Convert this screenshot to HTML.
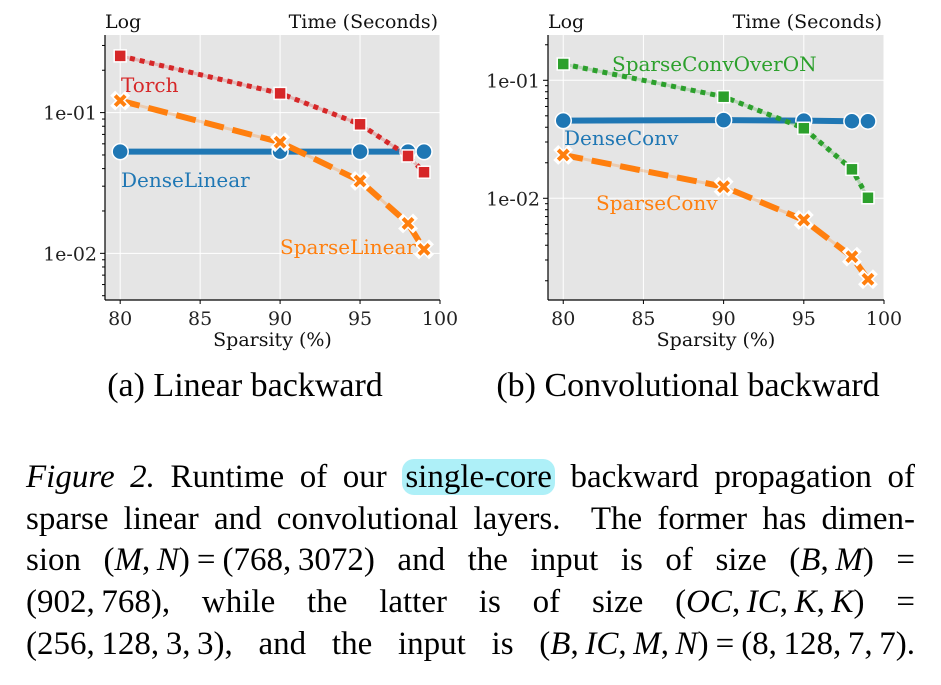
<!DOCTYPE html>
<html><head><meta charset="utf-8">
<style>
body{margin:0;background:#fff;width:941px;height:685px;overflow:hidden;position:relative;font-family:"Liberation Serif",serif}
svg{position:absolute;left:0;top:0}
.cap{position:absolute;left:26px;width:889px;font-size:33px;line-height:42px;white-space:nowrap;text-align:justify;text-align-last:justify;color:#000}
.hl{background:#aef0f8;border-radius:12px;padding:0 3px}
i{font-style:italic}
.m{margin:0 7px}
</style></head>
<body>
<svg id="chart" width="941" height="420"></svg>
<div class="cap" style="top:456px"><i>Figure 2.</i> Runtime of our <span class="hl">single-core</span> backward propagation of</div>
<div class="cap" style="top:498px">sparse linear and convolutional layers. &nbsp;The former has dimen-</div>
<div class="cap" style="top:539px">sion (<i>M</i>,&thinsp;<i>N</i>)<span class="m">=</span>(768,&thinsp;3072) and the input is of size (<i>B</i>,&thinsp;<i>M</i>) <span>=</span></div>
<div class="cap" style="top:581px">(902,&thinsp;768), while the latter is of size (<i>OC</i>,&thinsp;<i>IC</i>,&thinsp;<i>K</i>,&thinsp;<i>K</i>) <span>=</span></div>
<div class="cap" style="top:623px">(256,&thinsp;128,&thinsp;3,&thinsp;3), and the input is (<i>B</i>,&thinsp;<i>IC</i>,&thinsp;<i>M</i>,&thinsp;<i>N</i>)<span class="m">=</span>(8,&thinsp;128,&thinsp;7,&thinsp;7).</div>
<script>
const sparsity=[80,90,95,98,99];
const torchLin=[0.253,0.137,0.0826,0.0492,0.0377];
const denseLin=[0.0528,0.0528,0.0528,0.0528,0.0528];
const sparseLin=[0.1217,0.0616,0.0327,0.0163,0.01067];
const sparseConvOverON=[0.1374,0.0726,0.0392,0.0176,0.0101];
const denseConv=[0.0455,0.046,0.0455,0.045,0.045];
const sparseConv=[0.0233,0.01254,0.00655,0.0032,0.00206];
const xTicks=[80,85,90,95,100];
const yTicks=[0.1,0.01];
const yTickLabels=["1e-01","1e-02"];

const svg=document.getElementById('chart');
const NS='http://www.w3.org/2000/svg';
function mk(tag,attrs,parent){const e=document.createElementNS(NS,tag);for(const k in attrs)e.setAttribute(k,attrs[k]);(parent||svg).appendChild(e);return e;}
const RED='#d62728',BLUE='#1f77b4',ORANGE='#ff7f0e',GREEN='#2ca02c';
const FS=19;

function panel(p){
  const g=mk('g',{});
  
  
  const xs=v=>p.x0+(v-79.05)/(100-79.05)*(p.x1-p.x0);
  const ys=v=>p.y0+(Math.log10(p.yMax)-Math.log10(v))/(Math.log10(p.yMax)-Math.log10(p.yMin))*(p.y1-p.y0);
  const bg=mk('rect',{x:p.x0,y:p.y0,width:p.x1-p.x0,height:p.y1-p.y0,fill:'#e5e5e5'},g);
  
  
  xTicks.forEach(t=>{
    mk('line',{x1:xs(t),x2:xs(t),y1:p.y0,y2:p.y1,stroke:'#fff','stroke-width':1},g);
    mk('line',{x1:xs(t),x2:xs(t),y1:p.y1,y2:p.y1+4,stroke:'#000'},g);
    const tx=mk('text',{x:xs(t),y:p.y1+25,'text-anchor':'middle','font-family':'DejaVu Serif, serif','font-size':FS,fill:'#222'},g);
    tx.textContent=t;
    
    
  });
  for(let d=-4;d<=0;d++)for(let m=1;m<10;m++){
    const v=m*Math.pow(10,d);
    if(v<p.yMin||v>p.yMax)continue;
    const y=ys(v);
    mk('line',{x1:p.x0-(m===1?5:3),x2:p.x0,y1:y,y2:y,stroke:'#000'},g);
  }
  yTicks.forEach((t,i)=>{
    if(t<p.yMin||t>p.yMax)return;
    mk('line',{x1:p.x0,x2:p.x1,y1:ys(t),y2:ys(t),stroke:'#fff','stroke-width':1},g);
    const tx=mk('text',{x:p.x0-8,y:ys(t)+7,'text-anchor':'end','font-family':'DejaVu Serif, serif','font-size':FS,fill:'#222'},g);
    tx.textContent=yTickLabels[i];
    
    
  });
  mk('line',{x1:p.x0,x2:p.x0,y1:p.y0,y2:p.y1,stroke:'#000','stroke-width':1.2},g);
  mk('line',{x1:p.x0,x2:p.x1,y1:p.y1,y2:p.y1,stroke:'#000','stroke-width':1.2},g);
  let t=mk('text',{x:p.x0,y:28,'font-family':'DejaVu Serif, serif','font-size':FS,fill:'#111'},g);t.textContent='Log';
  
  t=mk('text',{x:p.x1-2,y:28,'text-anchor':'end','font-family':'DejaVu Serif, serif','font-size':FS,fill:'#111'},g);t.textContent='Time (Seconds)';
  
  t=mk('text',{x:(p.x0+p.x1)/2,y:p.y1+46,'text-anchor':'middle','font-family':'DejaVu Serif, serif','font-size':FS,fill:'#111'},g);t.textContent='Sparsity (%)';
  
  t=mk('text',{x:p.capX,y:396,'text-anchor':'middle','font-family':'Liberation Serif, serif','font-size':34,fill:'#000'},g);t.textContent=p.caption;
  

  p.series.forEach(s=>{
    const sg=mk('g',{},g);
    
    
    const pts=sparsity.map((x,i)=>xs(x)+','+ys(s.vals[i])).join(' ');
    if(s.style!=='solid')mk('polyline',{points:pts,fill:'none',stroke:s.color,'stroke-opacity':0.25,'stroke-width':3},sg);
    const attrs={points:pts,fill:'none',stroke:s.color,'stroke-width':s.style==='solid'?6:(s.style==='dash'?6:5)};
    if(s.style==='dash')attrs['stroke-dasharray']='20 9';
    if(s.style==='dot')attrs['stroke-dasharray']='5 5';
    mk('polyline',attrs,sg);
    sparsity.forEach((x,i)=>{
      const cx=xs(x),cy=ys(s.vals[i]);let m;
      if(s.marker==='circle')m=mk('circle',{cx,cy,r:8,fill:s.color,stroke:'#fff','stroke-width':1.5},sg);
      else if(s.marker==='square')m=mk('rect',{x:cx-6,y:cy-6,width:12,height:12,fill:s.color,stroke:'#fff','stroke-width':1.5},sg);
      else{m=mk('path',{d:`M${cx-5},${cy-5}L${cx+5},${cy+5}M${cx-5},${cy+5}L${cx+5},${cy-5}`,stroke:'#fff','stroke-width':7,'stroke-linecap':'square'},sg);
        mk('path',{d:`M${cx-5},${cy-5}L${cx+5},${cy+5}M${cx-5},${cy+5}L${cx+5},${cy-5}`,stroke:s.color,'stroke-width':4},sg);}
      
      
    });
    const lb=mk('text',{x:s.lx,y:s.ly,'font-family':'DejaVu Serif, serif','font-size':20,fill:s.color},sg);
    lb.textContent=s.label;
    
    
  });
}
panel({name:'linear-backward-chart',x0:105,x1:440,y0:35,y1:300,yMax:0.356,yMin:0.00466,capX:245,caption:'(a)  Linear backward',
  series:[
    {name:'dense-linear-series',vals:denseLin,color:BLUE,style:'solid',marker:'circle',label:'DenseLinear',lx:121,ly:187},
    {name:'torch-series',vals:torchLin,color:RED,style:'dot',marker:'square',label:'Torch',lx:121,ly:92},
    {name:'sparse-linear-series',vals:sparseLin,color:ORANGE,style:'dash',marker:'x',label:'SparseLinear',lx:280,ly:254}
  ]});
panel({name:'conv-backward-chart',x0:548,x1:884,y0:35,y1:300,yMax:0.242,yMin:0.001374,capX:688,caption:'(b)  Convolutional backward',
  series:[
    {name:'dense-conv-series',vals:denseConv,color:BLUE,style:'solid',marker:'circle',label:'DenseConv',lx:564,ly:145},
    {name:'sparse-conv-over-on-series',vals:sparseConvOverON,color:GREEN,style:'dot',marker:'square',label:'SparseConvOverON',lx:612,ly:71},
    {name:'sparse-conv-series',vals:sparseConv,color:ORANGE,style:'dash',marker:'x',label:'SparseConv',lx:596,ly:210}
  ]});
</script>
</body></html>
